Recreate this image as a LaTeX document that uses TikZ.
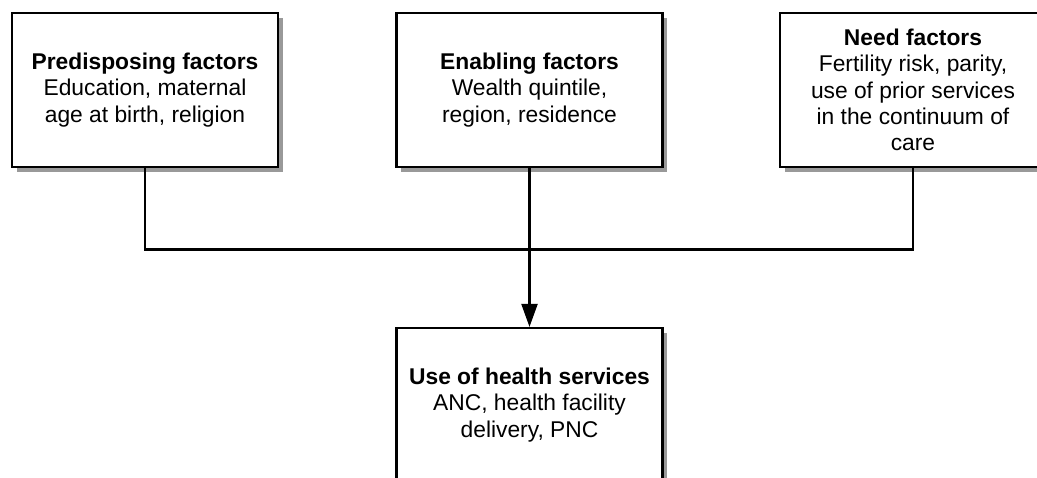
\documentclass[tikz,border=0pt]{standalone}
\usepackage{fontspec}
\setmainfont{Liberation Sans}
\usetikzlibrary{arrows.meta,shadows}
\begin{document}
\begin{tikzpicture}[x=1pt,y=-1pt,
  box/.style={draw=black, line width=2.2pt, fill=white,
    minimum width=266pt, minimum height=154pt, inner sep=0pt,
    align=center, font=\fontsize{22.8}{26.2}\selectfont,
    general shadow={fill=black!40, shadow xshift=4.5pt, shadow yshift=-4.5pt}},
  link/.style={draw=black, line width=2.2pt}]
\clip (0,0) rectangle (1037,477);
\fill[white] (0,0) rectangle (1037,477);
\node[box] (pre) at (145,90) {\textbf{Predisposing factors}\\Education, maternal\\age at birth, religion};
\node[box] (ena) at (529.5,90) {\textbf{Enabling factors}\\Wealth quintile,\\region, residence};
\node[box] (need) at (913,90) {\textbf{Need factors}\\Fertility risk, parity,\\use of prior services\\in the continuum of\\care};
\node[box] (use) at (529.5,405) {\textbf{Use of health services}\\ANC, health facility\\delivery, PNC};
\coordinate (jl) at (145,249.5);
\coordinate (jr) at (913,249.5);
\draw[link] (pre.south) -- (jl) -- (jr) -- (need.south);
\draw[link, -{Triangle[width=16pt,length=23pt]}] (ena.south) -- (use.north);
\end{tikzpicture}
\end{document}
